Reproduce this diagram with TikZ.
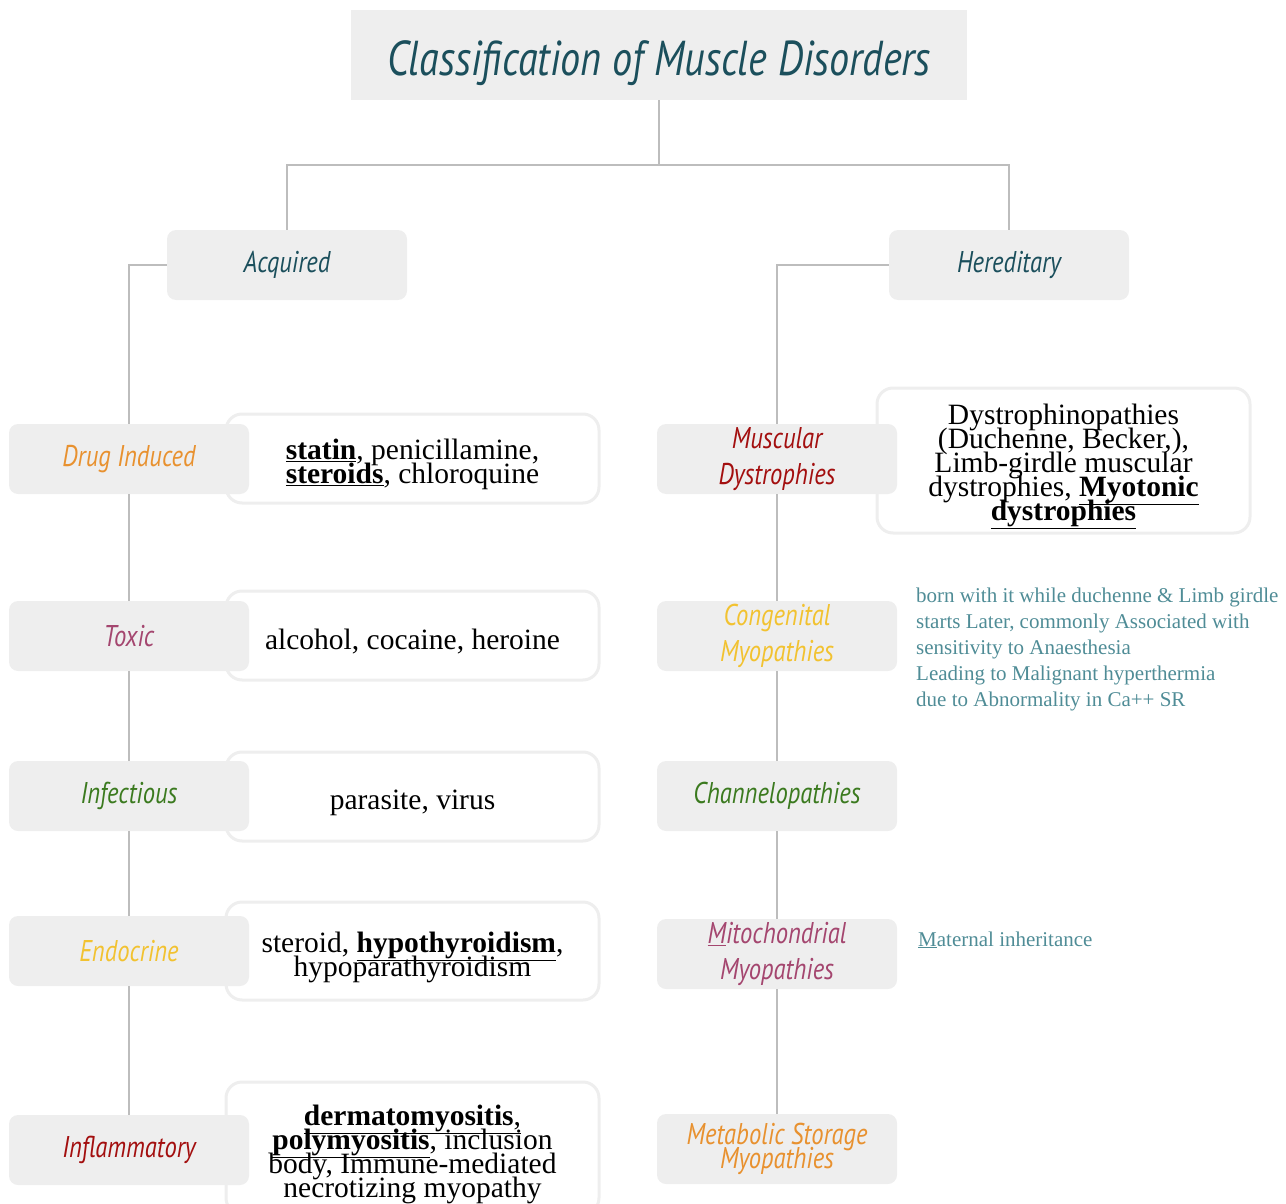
\documentclass[tikz,border=0pt]{standalone}
\usepackage{fontspec}
\setmainfont{Liberation Serif}
\newfontfamily\handfont[FakeStretch=0.82]{PT Sans}
\usetikzlibrary{positioning}
\definecolor{ink}{HTML}{1B4F5C}
\definecolor{boxgrey}{HTML}{EEEEEE}
\definecolor{linegrey}{HTML}{BDBDBD}
\definecolor{orange}{HTML}{E8912F}
\definecolor{mauve}{HTML}{A4466F}
\definecolor{leaf}{HTML}{3B7A1F}
\definecolor{gold}{HTML}{F2C230}
\definecolor{crimson}{HTML}{A30F0F}
\definecolor{noteteal}{HTML}{4F8C96}
\newcommand\tightskip{\lineskiplimit-40pt\relax}
\newcommand\lift{\rule{0pt}{33pt}}
\tikzset{
  titlebox/.style={fill=boxgrey,minimum width=616pt,minimum height=90pt,text=ink,font=\handfont\itshape\fontsize{49}{49}\selectfont},
  catbox/.style={fill=boxgrey,rounded corners=9pt,minimum width=240pt,minimum height=70pt,align=center,inner sep=2pt,font=\handfont\itshape\fontsize{30}{36}\selectfont\tightskip},
  detbox/.style={draw=boxgrey,line width=3pt,fill=white,rounded corners=16pt,minimum width=373pt,minimum height=89pt,align=center,font=\fontsize{29.5}{24}\selectfont\tightskip},
  note/.style={align=left,text=noteteal,inner sep=0pt,font=\fontsize{21}{26}\selectfont},
  link/.style={draw=linegrey,line width=2pt}}
\begin{document}
\begin{tikzpicture}[x=1pt,y=-1pt]
  \useasboundingbox (0,0) rectangle (1286,1204);
  \begin{scope}
  \clip (0,0) rectangle (1286,1204);
  \node[titlebox] (title) at (659,55) {\rule{0pt}{51pt}Classification of Muscle Disorders};
  \node[catbox,text=ink] (acq) at (287,265) {Acquired};
  \node[catbox,text=ink] (her) at (1009,265) {Hereditary};
  \coordinate (fork) at (659,165);
  \draw[link] (title.south) -- (fork);
  \draw[link] (fork) -| (acq.north);
  \draw[link] (fork) -| (her.north);
  % acquired branch
  \node[detbox] (drugd) at (412.5,458.5) {\lift\underline{\textbf{statin}}, penicillamine,\\\underline{\textbf{steroids}}, chloroquine};
  \node[detbox] (toxd) at (412.5,635.5) {\lift alcohol, cocaine, heroine};
  \node[detbox] (infd) at (412.5,796.5) {\lift parasite, virus};
  \node[detbox,minimum height=98pt] (endd) at (412.5,951) {\lift steroid, \underline{\textbf{hypothyroidism}},\\hypoparathyroidism};
  \node[detbox,minimum height=132pt] (infld) at (412.5,1148) {\lift\underline{\textbf{dermatomyositis},}\\\underline{\textbf{polymyositis}}, inclusion\\body, Immune-mediated\\necrotizing myopathy};
  \node[catbox,text=orange] (drug) at (129,459) {Drug Induced};
  \node[catbox,text=mauve] (tox) at (129,636) {Toxic};
  \node[catbox,text=leaf] (inf) at (129,796) {Infectious};
  \node[catbox,text=gold] (endo) at (129,951) {Endocrine};
  \node[catbox,text=crimson] (infl) at (129,1150) {Inflammatory};
  \draw[link] (acq.west) -| (drug.north);
  \draw[link] (drug) -- (tox);
  \draw[link] (tox) -- (inf);
  \draw[link] (inf) -- (endo);
  \draw[link] (endo) -- (infl);
  % hereditary branch
  \node[detbox,minimum height=145pt] (muscd) at (1063.5,460.5) {\lift Dystrophinopathies\\(Duchenne, Becker,),\\Limb-girdle muscular\\dystrophies, \underline{\textbf{Myotonic}}\\\underline{\textbf{dystrophies}}};
  \node[catbox,text=crimson] (musc) at (777,459) {Muscular\\Dystrophies};
  \node[catbox,text=gold] (cong) at (777,636) {Congenital\\Myopathies};
  \node[catbox,text=leaf] (chan) at (777,796) {Channelopathies};
  \node[catbox,text=mauve] (mito) at (777,954) {\underline{M}itochondrial\\Myopathies};
  \node[catbox,text=orange,font=\handfont\itshape\fontsize{30}{24}\selectfont\tightskip] (meta) at (777,1149) {Metabolic Storage\\Myopathies};
  \draw[link] (her.west) -| (musc.north);
  \draw[link] (musc) -- (cong);
  \draw[link] (cong) -- (chan);
  \draw[link] (chan) -- (mito);
  \draw[link] (mito) -- (meta);
  \node[note,anchor=north west] (congn) at (916,588) {born with it while duchenne \& Limb girdle\\starts Later, commonly Associated with\\sensitivity to Anaesthesia\\Leading to Malignant hyperthermia\\due to Abnormality in Ca++ SR};
  \node[note,anchor=west] (miton) at (918,940) {\underline{M}aternal inheritance};
  \end{scope}
\end{tikzpicture}
\end{document}
